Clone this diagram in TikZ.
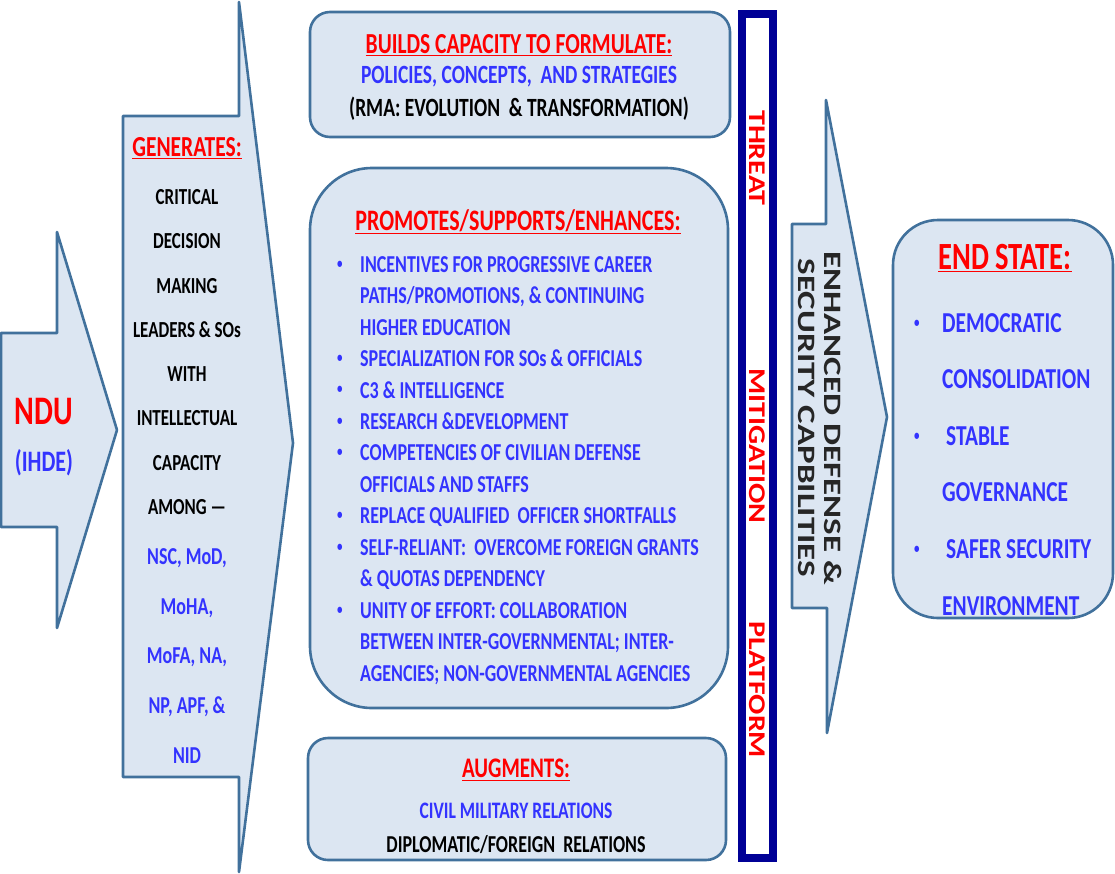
\documentclass[tikz,border=0pt]{standalone}
\usepackage{fontspec}
\setmainfont{Carlito}
\usepackage{xcolor}
\usepackage{tikz}
\usetikzlibrary{positioning}
\definecolor{boxfill}{RGB}{220,230,242}
\definecolor{boxline}{RGB}{65,113,156}
\definecolor{hdred}{RGB}{255,0,0}
\definecolor{itemblue}{RGB}{51,51,255}
\definecolor{barnavy}{RGB}{0,0,150}
\newcommand{\itemdot}[1][23pt]{\makebox[#1][l]{\raisebox{0.17em}{\fontsize{11}{11}\selectfont\textbullet}}}
\newcommand{\itemgap}[1][23pt]{\hspace*{#1}}
\tikzset{
  MyBox/.style={
    rectangle, draw=boxline, line width=2.6pt,
    fill=boxfill, inner sep=0pt,
  },
  MyArrow/.style={draw=boxline, line width=2.6pt, fill=boxfill, line join=round},
  MyText/.style={yscale=1.35, inner sep=0pt, align=center},
  MyHead/.style={MyText, text=hdred},
  MyItem/.style={MyText, text=itemblue},
  MyVert/.style={rotate=-90, xscale=1.25, inner sep=0pt, align=center},
}

\begin{document}
\begin{tikzpicture}[x=1pt,y=-1pt]
\useasboundingbox (0,0) rectangle (1115,873);
% arrows
\draw[MyArrow] (1,333) -- (57,333) -- (57,232) -- (117,430) -- (57,628) -- (57,527) -- (1,527) -- cycle;
\draw[MyArrow] (123,116) -- (239,116) -- (239,2) -- (293,443) -- (239,872) -- (239,777) -- (123,777) -- cycle;
\draw[MyArrow] (792,224) -- (826,224) -- (826,100) -- (887,417) -- (827,733) -- (827,608) -- (792,608) -- cycle;
% boxes
\node[MyBox, rounded corners=20pt, minimum width=420pt, minimum height=125pt] (BUILDS) at (520,74.5) {};
\node[MyBox, rounded corners=62pt, minimum width=418pt, minimum height=540pt] (PROMO) at (519,438) {};
\node[MyBox, rounded corners=20pt, minimum width=418pt, minimum height=122pt] (AUGM) at (517,799) {};
\node[MyBox, rounded corners=45pt, minimum width=220pt, minimum height=398pt] (END) at (1003,419) {};
\node[rectangle, draw=barnavy, line width=8pt, fill=white, minimum width=31pt, minimum height=844pt] (BAR) at (757.5,436) {};
% NDU
\node[MyHead, font=\bfseries\fontsize{30}{30}\selectfont] (NDU) at (44,412) {NDU};
\node[MyItem, font=\bfseries\fontsize{22}{22}\selectfont] (IHDE) at (44,463) {(IHDE)};
% generates
\node[MyHead, font=\bfseries\fontsize{21.5}{21.5}\selectfont] (GENH) at (187,148) {\underline{GENERATES:}};
\node[MyText, font=\bfseries\fontsize{17}{32.8}\selectfont] (GENL) at (187,352)
  {CRITICAL\\DECISION\\MAKING\\LEADERS \& SOs\\WITH\\INTELLECTUAL\\CAPACITY\\AMONG —};
\node[MyItem, font=\bfseries\fontsize{18}{37}\selectfont] (GENO) at (187,656)
  {NSC, MoD,\\MoHA,\\MoFA, NA,\\NP, APF, \&\\NID};
% builds
\node[MyHead, font=\bfseries\fontsize{21.5}{21.5}\selectfont] (BLDH) at (519,45) {\underline{BUILDS CAPACITY TO FORMULATE:}};
\node[MyItem, font=\bfseries\fontsize{19.5}{19.5}\selectfont] (BLDP) at (519,77) {POLICIES, CONCEPTS,~ AND STRATEGIES};
\node[MyText, font=\bfseries\fontsize{19.5}{19.5}\selectfont] (BLDR) at (519,109) {(RMA: EVOLUTION~ \& TRANSFORMATION)};
% promotes
\node[MyHead, font=\bfseries\fontsize{22}{22}\selectfont] (PROH) at (518,222) {\underline{PROMOTES/SUPPORTS/ENHANCES:}};
\node[MyItem, anchor=north west, align=left, font=\bfseries\fontsize{18}{23.3}\selectfont] (PROL) at (337,256)
  {\itemdot INCENTIVES FOR PROGRESSIVE CAREER\\
   \itemgap PATHS/PROMOTIONS, \& CONTINUING\\
   \itemgap HIGHER EDUCATION\\
   \itemdot SPECIALIZATION FOR SOs \& OFFICIALS\\
   \itemdot C3 \& INTELLIGENCE\\
   \itemdot RESEARCH \&DEVELOPMENT\\
   \itemdot COMPETENCIES OF CIVILIAN DEFENSE\\
   \itemgap OFFICIALS AND STAFFS\\
   \itemdot REPLACE QUALIFIED~ OFFICER SHORTFALLS\\
   \itemdot SELF-RELIANT:~ OVERCOME FOREIGN GRANTS\\
   \itemgap \& QUOTAS DEPENDENCY\\
   \itemdot UNITY OF EFFORT: COLLABORATION\\
   \itemgap BETWEEN INTER-GOVERNMENTAL; INTER-\\
   \itemgap AGENCIES; NON-GOVERNMENTAL AGENCIES};
% augments
\node[MyHead, font=\bfseries\fontsize{21}{21}\selectfont] (AUGH) at (516,770) {\underline{AUGMENTS:}};
\node[MyItem, font=\bfseries\fontsize{17.5}{17.5}\selectfont] (AUGC) at (516,811) {CIVIL MILITARY RELATIONS};
\node[MyText, font=\bfseries\fontsize{18}{18}\selectfont] (AUGD) at (516,845) {DIPLOMATIC/FOREIGN~ RELATIONS};
% bar
\node[MyVert, text=hdred, font=\bfseries\fontsize{24}{24}\selectfont] (THR) at (757,158) {THREAT};
\node[MyVert, text=hdred, font=\bfseries\fontsize{24}{24}\selectfont] (MIT) at (757,446) {MITIGATION};
\node[MyVert, text=hdred, font=\bfseries\fontsize{24}{24}\selectfont] (PLAT) at (757,690) {PLATFORM};
% enhanced
\node[MyVert, xscale=1.12, text=black!85, font=\bfseries\fontsize{25}{26}\selectfont] (ENH) at (820,418) {ENHANCED DEFENSE \&\\SECURITY CAPBILITIES};
% end state
\node[MyHead, font=\bfseries\fontsize{28.5}{28.5}\selectfont] (ENDH) at (1005,258) {\underline{END STATE:}};
\node[MyItem, anchor=north west, align=left, font=\bfseries\fontsize{21.4}{41.9}\selectfont] (ENDL) at (914,313)
  {\itemdot[28pt]DEMOCRATIC\\
   \itemgap[28pt]CONSOLIDATION\\
   \itemdot[32pt]STABLE\\
   \itemgap[28pt]GOVERNANCE\\
   \itemdot[32pt]SAFER SECURITY\\
   \itemgap[28pt]ENVIRONMENT};
\end{tikzpicture}
\end{document}
